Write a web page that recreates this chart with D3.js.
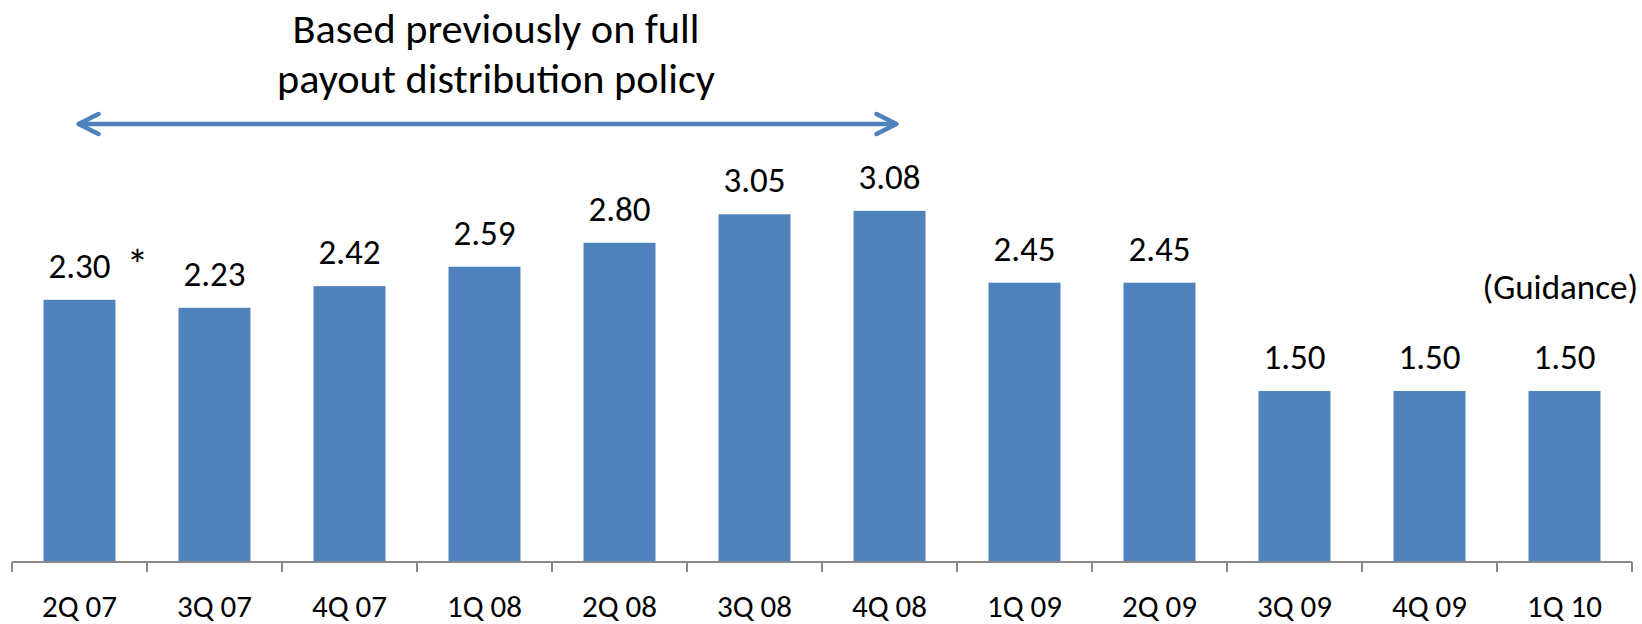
<!DOCTYPE html>
<html>
<head>
<meta charset="utf-8">
<script src="https://cdn.jsdelivr.net/npm/d3@7"></script>
<style>
    body { margin: 0; background: #fff; }
    text { font-family: Carlito, Calibri, "Open Sans", sans-serif; fill: #000; }
</style>
</head>
<body>
<div id="chart"></div>
<script>
// quarterly payout bar chart

const categories = ["2Q 07", "3Q 07", "4Q 07", "1Q 08", "2Q 08", "3Q 08", "4Q 08", "1Q 09", "2Q 09", "3Q 09", "4Q 09", "1Q 10"];
const payouts = [2.30, 2.23, 2.42, 2.59, 2.80, 3.05, 3.08, 2.45, 2.45, 1.50, 1.50, 1.50];
const footnoted = ["2Q 07"];
const titleLines = ["Based previously on full", "payout distribution policy"];
const arrowSpan = ["2Q 07", "4Q 08"];
const guidanceNote = "(Guidance)";

let width = 1642,
    height = 624,
    axisY = 562,
    yMax = 4.93;

let svg = d3.select("#chart")
    .append("svg")
    .attr("width", width)
    .attr("height", height);

let x = d3.scaleBand()
    .domain(categories)
    .range([12, 1632])
    .paddingInner(0.467)
    .paddingOuter(0.2335);

let y = d3.scaleLinear()
    .domain([0, yMax])
    .range([axisY, 0]);

let fmt = d3.format(".2f");

// bars
svg.append("g")
    .selectAll("rect")
    .data(payouts)
    .join("rect")
    .attr("x", (d, i) => x(categories[i]))
    .attr("y", d => y(d))
    .attr("width", x.bandwidth())
    .attr("height", d => axisY - y(d))
    .attr("fill", "#4F81BD");

// value labels
svg.append("g")
    .selectAll("text")
    .data(payouts)
    .join("text")
    .attr("x", (d, i) => x(categories[i]) + x.bandwidth() / 2)
    .attr("y", d => y(d) - 22)
    .attr("text-anchor", "middle")
    .style("font-size", "35px")
    .text(d => fmt(d));

// footnote mark next to label
svg.append("g")
    .selectAll("text")
    .data(footnoted)
    .join("text")
    .attr("x", d => x(d) + x.bandwidth() + 11)
    .attr("y", d => y(payouts[categories.indexOf(d)]) - 20)
    .style("font-size", "44px")
    .text("*");

// x axis: labels, then ticks at the band boundaries
let xAxis = d3.axisBottom(x)
    .tickSize(0)
    .tickPadding(0);

let axisG = svg.append("g")
    .attr("transform", "translate(0," + axisY + ")")
    .call(xAxis);

axisG.select(".domain").remove();
axisG.selectAll("text")
    .attr("y", 55)
    .attr("dy", 0)
    .style("font-size", "31px")
    .style("font-family", null);

let bounds = categories.map(c => x(c) + x.bandwidth() / 2 - x.step() / 2);
bounds.push(x.range()[1]);

axisG.append("line")
    .attr("x1", x.range()[0])
    .attr("x2", x.range()[1])
    .attr("stroke", "#898989")
    .attr("stroke-width", 2);

axisG.selectAll(".bound")
    .data(bounds)
    .join("line")
    .attr("class", "bound")
    .attr("x1", d => d)
    .attr("x2", d => d)
    .attr("y1", 0)
    .attr("y2", 10)
    .attr("stroke", "#898989")
    .attr("stroke-width", 2);

// heading
let lineWidths = [407, 438];
svg.append("g")
    .selectAll("text")
    .data(titleLines)
    .join("text")
    .attr("x", 496)
    .attr("y", (d, i) => 43 + i * 50)
    .attr("text-anchor", "middle")
    .attr("textLength", (d, i) => lineWidths[i])
    .attr("lengthAdjust", "spacingAndGlyphs")
    .style("font-size", "42px")
    .text(d => d);

// double arrow over the full payout period
let ax1 = x(arrowSpan[0]) + x.bandwidth() / 2 - 1,
    ax2 = x(arrowSpan[1]) + x.bandwidth() / 2 + 7,
    ay = 124;

let arrow = svg.append("g")
    .attr("stroke", "#4F81BD")
    .attr("stroke-width", 4.5)
    .attr("stroke-linecap", "round")
    .attr("stroke-linejoin", "round")
    .attr("fill", "none");

arrow.append("line")
    .attr("x1", ax1 + 2)
    .attr("x2", ax2 - 2)
    .attr("y1", ay)
    .attr("y2", ay);

arrow.append("path")
    .attr("d", "M" + (ax1 + 20) + "," + (ay - 10) + "L" + ax1 + "," + ay + "L" + (ax1 + 20) + "," + (ay + 10));

arrow.append("path")
    .attr("d", "M" + (ax2 - 20) + "," + (ay - 10) + "L" + ax2 + "," + ay + "L" + (ax2 - 20) + "," + (ay + 10));

// guidance note
svg.append("text")
    .attr("x", 1638)
    .attr("y", 299)
    .attr("text-anchor", "end")
    .style("font-size", "35px")
    .text(guidanceNote);
</script>
</body>
</html>
